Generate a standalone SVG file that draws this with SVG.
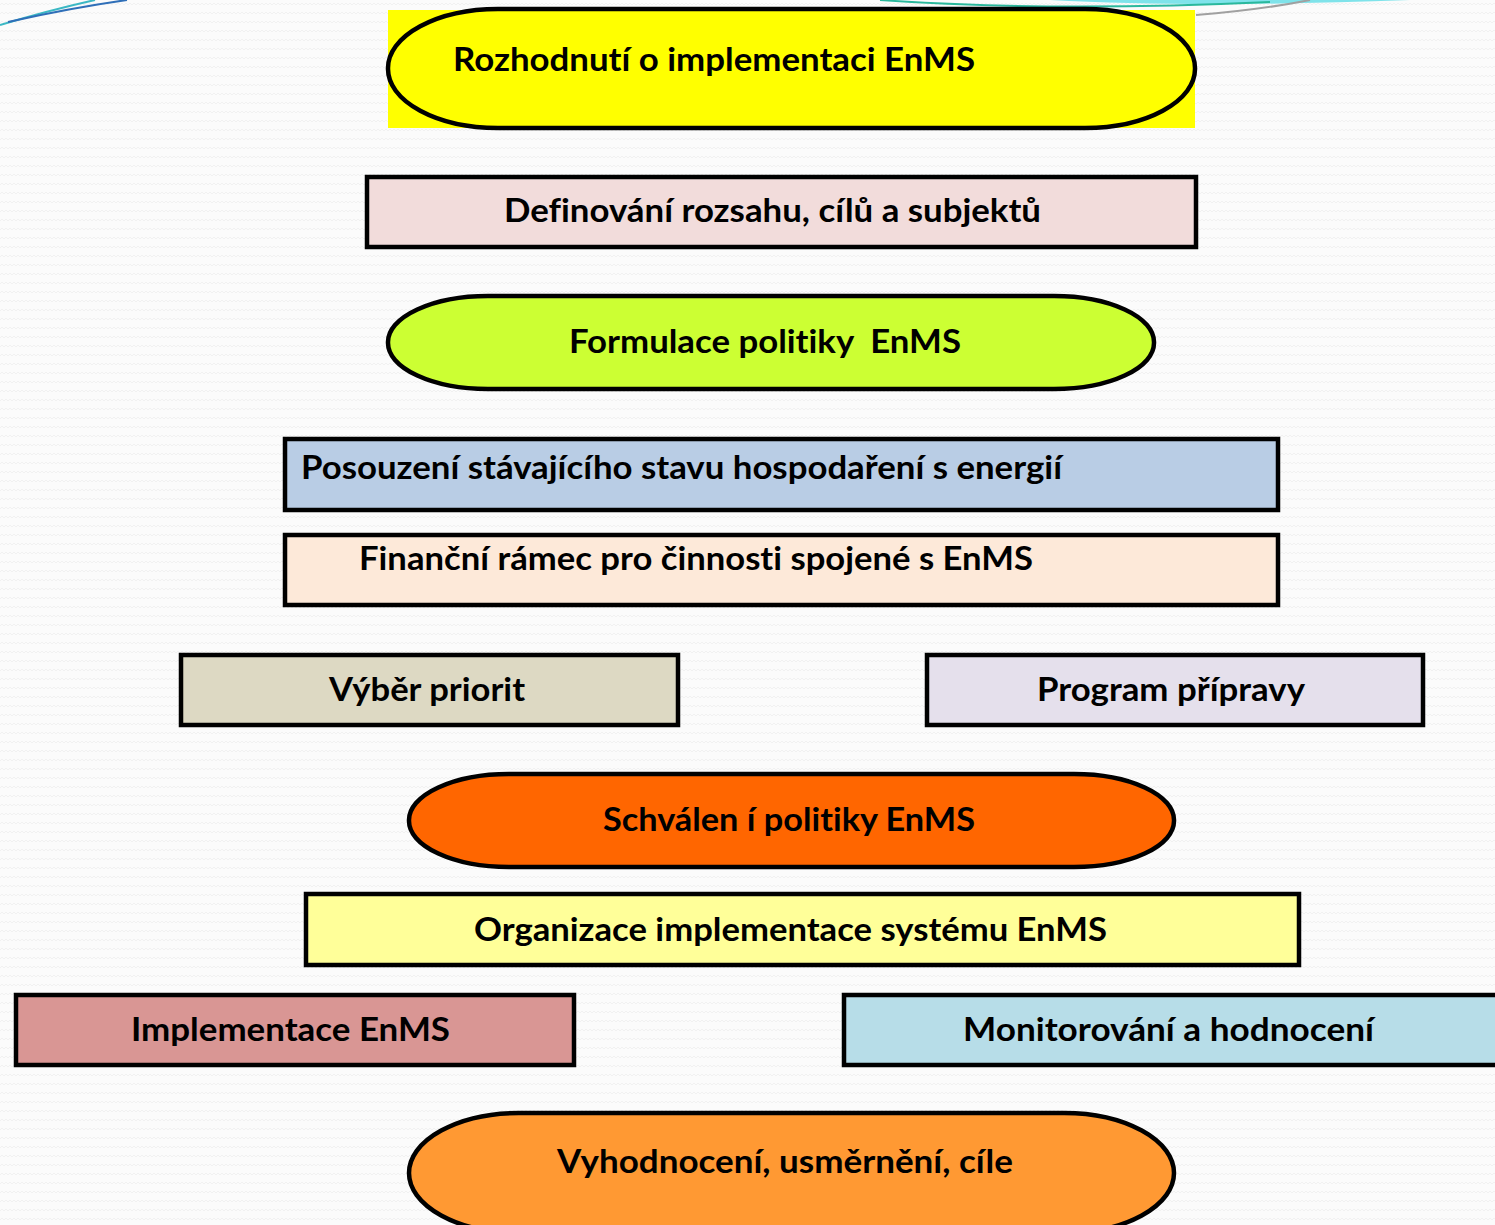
<svg xmlns="http://www.w3.org/2000/svg" width="1495" height="1225" viewBox="0 0 1495 1225">
<style>
.t{font-family:Lato,"Open Sans","Liberation Sans",sans-serif;font-weight:bold;font-size:32px;fill:#000;white-space:pre;font-variant-ligatures:none;font-feature-settings:"liga" 0}
.s{stroke:#000;stroke-width:4.5}
</style>
<defs>
<pattern id="bg" width="8" height="9" patternUnits="userSpaceOnUse">
<path d="M0 5 L2 3 L4 5 L6 3 L8 5" fill="none" stroke="#f1f1f1" stroke-width="1"/>
</pattern>
</defs>
<rect width="1495" height="1225" fill="#fbfbfb"/>
<rect width="1495" height="1225" fill="url(#bg)"/>
<g id="decor">
<path d="M0 25 Q50 10 95 0" fill="none" stroke="#3bb8c4" stroke-width="2"/>
<path d="M8 22 Q70 8 127 0" fill="none" stroke="#2f6fb8" stroke-width="2"/>
<path d="M1050 0 Q1200 8 1410 0 Z" fill="#7fe3ea"/>
<path d="M880 0 Q1050 12 1270 2" fill="none" stroke="#2ab89c" stroke-width="2"/>
<path d="M1196 15 Q1260 10 1310 0" fill="none" stroke="#a0a0a0" stroke-width="2"/>
</g>
<g id="n1">
<rect x="388" y="10" width="807" height="118" fill="#ffff00"/>
<rect x="388" y="9" width="807" height="119" rx="110" ry="59" fill="#ffff00" class="s"/>
<text class="t" x="453" y="71" textLength="522" lengthAdjust="spacingAndGlyphs">Rozhodnutí o implementaci EnMS</text>
</g>
<g id="n2">
<rect x="367" y="177" width="829" height="70" fill="#f2dcdb" class="s"/>
<text class="t" x="504" y="222" textLength="537" lengthAdjust="spacingAndGlyphs">Definování rozsahu, cílů a subjektů</text>
</g>
<g id="n3">
<rect x="388" y="296" width="766" height="93" rx="100" ry="46" fill="#ccff33" class="s"/>
<text class="t" x="569" y="353" textLength="392" lengthAdjust="spacingAndGlyphs">Formulace politiky  EnMS</text>
</g>
<g id="n4">
<rect x="285" y="439" width="993" height="71" fill="#b9cde5" class="s"/>
<text class="t" x="301" y="479" textLength="761" lengthAdjust="spacingAndGlyphs">Posouzení stávajícího stavu hospodaření s energií</text>
</g>
<g id="n5">
<rect x="285" y="535" width="993" height="70" fill="#fde9d9" class="s"/>
<text class="t" x="359" y="570" textLength="674" lengthAdjust="spacingAndGlyphs">Finanční rámec pro činnosti spojené s EnMS</text>
</g>
<g id="n6">
<rect x="181" y="655" width="497" height="70" fill="#ddd9c3" class="s"/>
<text class="t" x="329" y="701" textLength="196" lengthAdjust="spacingAndGlyphs">Výběr priorit</text>
</g>
<g id="n7">
<rect x="927" y="655" width="496" height="70" fill="#e5e0ec" class="s"/>
<text class="t" x="1037" y="701" textLength="268" lengthAdjust="spacingAndGlyphs">Program přípravy</text>
</g>
<g id="n8">
<rect x="409" y="774" width="765" height="93" rx="100" ry="46" fill="#ff6600" class="s"/>
<text class="t" x="603" y="831" textLength="372" lengthAdjust="spacingAndGlyphs">Schválen í politiky EnMS</text>
</g>
<g id="n9">
<rect x="306" y="894" width="993" height="71" fill="#ffff99" class="s"/>
<text class="t" x="474" y="941" textLength="633" lengthAdjust="spacingAndGlyphs">Organizace implementace systému EnMS</text>
</g>
<g id="n10">
<rect x="16" y="995" width="558" height="70" fill="#d99694" class="s"/>
<text class="t" x="131" y="1041" textLength="319" lengthAdjust="spacingAndGlyphs">Implementace EnMS</text>
</g>
<g id="n11">
<rect x="844" y="995" width="660" height="70" fill="#b7dde8" class="s"/>
<text class="t" x="963" y="1041" textLength="411" lengthAdjust="spacingAndGlyphs">Monitorování a hodnocení</text>
</g>
<g id="n12">
<rect x="409" y="1113" width="765" height="120" rx="110" ry="60" fill="#ff9933" class="s"/>
<text class="t" x="557" y="1173" textLength="456" lengthAdjust="spacingAndGlyphs">Vyhodnocení, usměrnění, cíle</text>
</g>
<g id="connectors"></g>
</svg>
